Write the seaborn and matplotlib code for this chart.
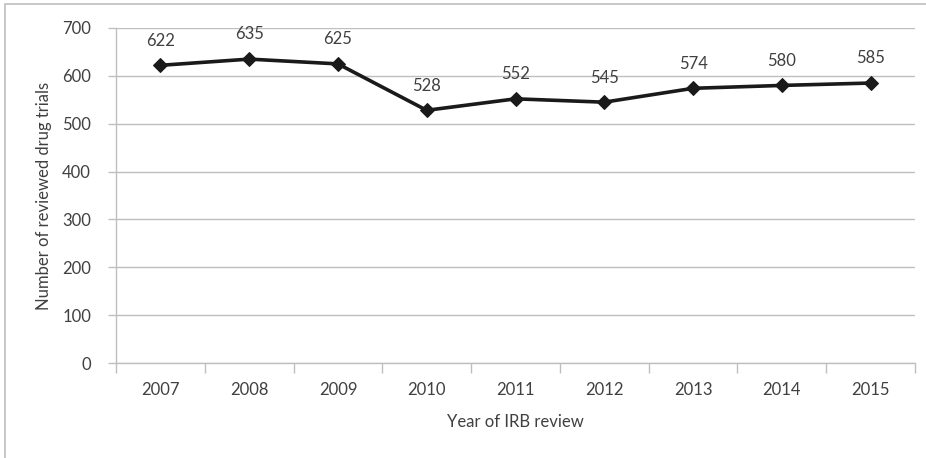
import matplotlib
matplotlib.use("Agg")
import matplotlib.pyplot as plt
import seaborn as sns
import pandas as pd
import numpy as np
from matplotlib.patches import Rectangle

years = ["2007", "2008", "2009", "2010", "2011", "2012", "2013", "2014", "2015"]
trials = [622, 635, 625, 528, 552, 545, 574, 580, 585]
y_ticks = [0, 100, 200, 300, 400, 500, 600, 700]

sns.set_theme(style="white")
plt.rcParams["font.family"] = ["Lato", "DejaVu Sans"]

text_color = "#404040"
grid_color = "#bfbfbf"
fs = 12

df = pd.DataFrame({"year": years, "trials": trials})

fig = plt.figure(figsize=(9.26, 4.58), dpi=100)
ax = fig.add_axes([116 / 926, 1 - 363 / 458, (915 - 116) / 926, (363 - 28) / 458])

sns.lineplot(data=df, x="year", y="trials", ax=ax, color="#1a1a1a", linewidth=2.6,
             marker="D", markersize=7.5, markeredgecolor="#1a1a1a", sort=False)

for i, v in enumerate(trials):
    ax.annotate(str(v), (i, v), xytext=(0, 12), textcoords="offset points",
                ha="center", va="bottom", fontsize=fs, color=text_color)

ax.set_xlim(-0.5, len(years) - 0.5)
ax.set_ylim(0, 700)
ax.set_yticks(y_ticks)
ax.set_yticklabels([str(t) for t in y_ticks])
ax.set_xticks(range(len(years)))
ax.set_xticklabels(years)
ax.set_xticks(np.arange(-0.5, len(years), 1.0), minor=True)

ax.yaxis.grid(True, color=grid_color, linewidth=1)
ax.xaxis.grid(False)
for side in ("top", "right"):
    ax.spines[side].set_visible(False)
for side in ("left", "bottom"):
    ax.spines[side].set_color(grid_color)
    ax.spines[side].set_linewidth(1)

ax.tick_params(axis="x", which="major", length=0, pad=14, labelsize=fs, labelcolor=text_color)
ax.tick_params(axis="x", which="minor", length=7, width=1, color=grid_color, direction="out", bottom=True)
ax.tick_params(axis="y", which="major", length=6, width=1, color=grid_color, left=True, pad=12,
               labelsize=fs, labelcolor=text_color)

ax.set_xlabel("Year of IRB review", fontsize=fs, color=text_color, labelpad=11)
ax.set_ylabel("Number of reviewed drug trials", fontsize=fs, color=text_color, labelpad=7)

fig.patches.append(Rectangle((5 / 926, -0.1), 2.0, 1.1 - 4.5 / 458, transform=fig.transFigure,
                             fill=False, edgecolor=grid_color, linewidth=1.2))

fig.savefig("out.png", dpi=100)
